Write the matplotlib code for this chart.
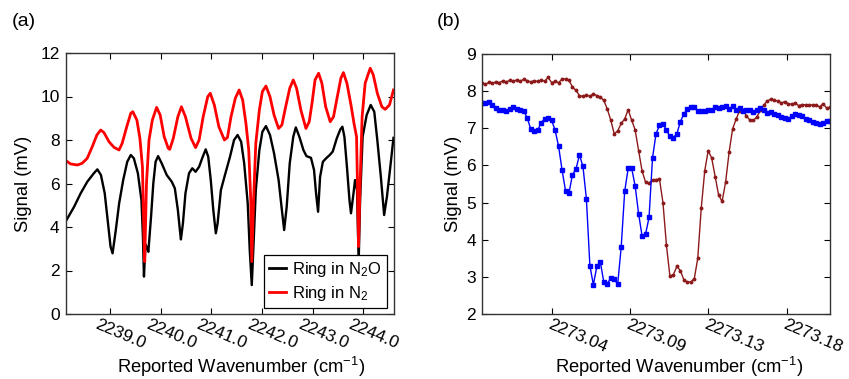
import numpy as np
import matplotlib
matplotlib.use('Agg')
import matplotlib.pyplot as plt
from matplotlib.transforms import ScaledTranslation

plt.rcParams['font.family'] = ['Liberation Sans', 'DejaVu Sans']
plt.rcParams['mathtext.fontset'] = 'custom'
plt.rcParams['mathtext.rm'] = 'Liberation Sans'
plt.rcParams['mathtext.it'] = 'Liberation Sans:italic'
plt.rcParams['mathtext.bf'] = 'Liberation Sans:bold'

# ---------------- Panel (a) data ----------------
a_black_x = [2238.13, 2238.29, 2238.42, 2238.55, 2238.68, 2238.75, 2238.82, 2238.895, 2238.96,
             2239.01, 2239.05, 2239.11, 2239.18, 2239.26, 2239.34, 2239.41, 2239.47, 2239.55,
             2239.62, 2239.65, 2239.67, 2239.70, 2239.73, 2239.757, 2239.81, 2239.855, 2239.90,
             2239.95, 2240.02, 2240.12, 2240.22, 2240.28, 2240.34, 2240.38, 2240.40, 2240.44,
             2240.49, 2240.56, 2240.625, 2240.69, 2240.76, 2240.82, 2240.89, 2240.94, 2240.99,
             2241.04, 2241.09, 2241.125, 2241.19, 2241.27, 2241.37, 2241.45, 2241.52, 2241.59,
             2241.65, 2241.72, 2241.76, 2241.80, 2241.836, 2241.88, 2241.95, 2242.01, 2242.08,
             2242.16, 2242.24, 2242.33, 2242.395, 2242.44, 2242.49, 2242.55, 2242.62, 2242.67,
             2242.74, 2242.82, 2242.88, 2242.97, 2243.03, 2243.07, 2243.11, 2243.15, 2243.205,
             2243.27, 2243.34, 2243.40, 2243.48, 2243.55, 2243.59, 2243.63, 2243.68, 2243.73,
             2243.76, 2243.81, 2243.84, 2243.88, 2243.90, 2243.915, 2243.94, 2243.99, 2244.07,
             2244.15, 2244.22, 2244.28, 2244.35, 2244.415, 2244.47, 2244.53, 2244.60]
a_black_y = [4.28, 4.93, 5.55, 6.08, 6.47, 6.65, 6.39, 5.55, 4.17,
             3.10, 2.79, 3.79, 5.09, 6.16, 7.00, 7.31, 7.16, 6.47,
             5.24, 3.55, 1.72, 3.20, 3.05, 2.86, 4.47, 6.01, 7.00,
             7.26, 6.93, 6.39, 6.08, 5.78, 4.78, 3.86, 3.43, 4.17,
             5.55, 6.47, 6.70, 6.54, 6.77, 7.16, 7.57, 7.23, 6.16,
             4.78, 3.71, 4.17, 5.70, 6.39, 7.23, 8.00, 8.23, 7.92,
             6.93, 5.09, 2.94, 1.33, 3.25, 5.70, 7.54, 8.38, 8.64,
             8.23, 7.39, 6.16, 4.78, 3.86, 4.93, 6.93, 8.15, 8.58,
             8.15, 7.54, 7.26, 7.18, 6.62, 5.55, 4.70, 6.31, 7.00,
             7.16, 7.31, 7.47, 8.08, 8.49, 8.61, 8.15, 6.77, 5.24,
             4.63, 5.55, 6.16, 5.70, 3.55, 2.71, 5.24, 8.15, 9.15,
             9.61, 9.30, 8.00, 6.31, 4.55, 5.39, 6.62, 8.10]

a_red_x = [2238.13, 2238.22, 2238.355, 2238.45, 2238.55, 2238.65, 2238.74, 2238.816, 2238.88,
           2238.98, 2239.08, 2239.178, 2239.24, 2239.33, 2239.41, 2239.45, 2239.53, 2239.59,
           2239.64, 2239.67, 2239.685, 2239.72, 2239.77, 2239.836, 2239.92, 2239.99, 2240.07,
           2240.15, 2240.18, 2240.25, 2240.34, 2240.41, 2240.49, 2240.60, 2240.69, 2240.76,
           2240.84, 2240.93, 2240.98, 2241.06, 2241.15, 2241.26, 2241.32, 2241.39, 2241.475,
           2241.55, 2241.62, 2241.685, 2241.74, 2241.78, 2241.80, 2241.836, 2241.88, 2241.95,
           2242.01, 2242.08, 2242.16, 2242.24, 2242.33, 2242.395, 2242.47, 2242.55, 2242.62,
           2242.685, 2242.77, 2242.87, 2242.935, 2242.99, 2243.05, 2243.12, 2243.185, 2243.26,
           2243.35, 2243.415, 2243.49, 2243.56, 2243.61, 2243.68, 2243.76, 2243.82, 2243.87,
           2243.89, 2243.91, 2243.94, 2243.98, 2244.04, 2244.14, 2244.20, 2244.28, 2244.37,
           2244.435, 2244.52, 2244.60]
a_red_y = [7.05, 6.90, 6.85, 6.93, 7.16, 7.70, 8.23, 8.46, 8.34,
           7.92, 7.66, 7.54, 7.85, 8.61, 9.23, 9.30, 8.92, 8.08,
           6.77, 3.56, 2.41, 6.01, 8.00, 8.92, 9.50, 9.15, 8.15,
           7.62, 7.57, 8.08, 9.07, 9.53, 9.07, 8.08, 7.65, 8.00,
           9.07, 9.99, 10.15, 9.61, 8.61, 8.00, 8.12, 9.07, 9.92,
           10.30, 9.84, 8.76, 7.54, 5.24, 2.41, 5.24, 7.85, 9.38,
           10.23, 10.48, 9.99, 9.15, 8.53, 8.69, 9.53, 10.38, 10.76,
           10.38, 9.38, 8.53, 8.84, 9.69, 10.76, 11.07, 10.61, 9.53,
           8.84, 9.07, 9.99, 10.84, 11.10, 10.61, 9.61, 8.76, 8.15,
           5.70, 3.10, 6.01, 9.07, 10.61, 11.30, 11.00, 10.15, 9.53,
           9.41, 9.61, 10.30]

a_labels = ['Ring in N$_2$O', 'Ring in N$_2$']
a_xticks = [2239.0, 2240.0, 2241.0, 2242.0, 2243.0, 2244.0]
a_xticklabels = ['2239.0', '2240.0', '2241.0', '2242.0', '2243.0', '2244.0']
a_yticks = [0, 2, 4, 6, 8, 10, 12]

# ---------------- Panel (b) data ----------------
b_x_start = 2273.000
b_x_step = 0.002
b_blue = [7.69, 7.68, 7.72, 7.64, 7.55, 7.49, 7.50, 7.47, 7.52, 7.56,
          7.53, 7.50, 7.46, 7.28, 6.98, 6.94, 6.95, 7.15, 7.26, 7.27,
          7.22, 6.95, 6.52, 5.88, 5.32, 5.26, 5.75, 5.90, 6.28, 5.98,
          5.10, 3.30, 2.79, 3.28, 3.40, 2.86, 2.80, 2.98, 2.93, 2.81,
          3.80, 5.30, 5.92, 5.93, 5.45, 4.70, 4.10, 4.15, 4.60, 6.20,
          6.85, 7.08, 7.12, 6.95, 6.78, 6.75, 6.85, 7.18, 7.38, 7.52,
          7.58, 7.57, 7.47, 7.47, 7.46, 7.49, 7.50, 7.56, 7.54, 7.58,
          7.60, 7.52, 7.59, 7.49, 7.54, 7.46, 7.49, 7.48, 7.45, 7.49,
          7.55, 7.50, 7.41, 7.44, 7.39, 7.36, 7.31, 7.29, 7.26, 7.32,
          7.38, 7.36, 7.32, 7.26, 7.22, 7.17, 7.14, 7.12, 7.15, 7.20,
          7.20]
b_red = [8.21, 8.18, 8.24, 8.21, 8.25, 8.23, 8.28, 8.25, 8.29, 8.27,
         8.30, 8.27, 8.32, 8.28, 8.25, 8.28, 8.26, 8.30, 8.27, 8.37,
         8.23, 8.26, 8.23, 8.32, 8.33, 8.29, 8.11, 8.02, 7.88, 7.86,
         7.90, 7.86, 7.93, 7.88, 7.84, 7.75, 7.52, 7.22, 6.85, 6.93,
         7.13, 7.25, 7.50, 7.22, 6.96, 6.40, 5.85, 5.55, 5.52, 5.60,
         5.62, 5.63, 5.00, 3.85, 3.02, 3.06, 3.28, 3.17, 2.92, 2.86,
         2.86, 2.95, 3.50, 4.85, 5.85, 6.40, 6.20, 5.70, 5.20, 5.03,
         5.55, 6.35, 6.98, 7.24, 7.47, 7.49, 7.33, 7.22, 7.21, 7.31,
         7.48, 7.63, 7.74, 7.78, 7.76, 7.73, 7.68, 7.72, 7.66, 7.65,
         7.68, 7.61, 7.64, 7.63, 7.62, 7.63, 7.62, 7.58, 7.66, 7.55,
         7.56]
b_xticks = [2273.04, 2273.085, 2273.13, 2273.175]
b_xticklabels = ['2273.04', '2273.09', '2273.13', '2273.18']
b_yticks = [2, 3, 4, 5, 6, 7, 8, 9]

FS = 12.5
LFS = 13.2
W, H = 849, 379
fig = plt.figure(figsize=(W / 100, H / 100), dpi=100)
axa = fig.add_axes([66 / W, 1 - 314 / H, (393.5 - 66) / W, (314 - 53) / H])
axb = fig.add_axes([482 / W, 1 - 314 / H, (830 - 482) / W, (314 - 54) / H])

# Panel (a)
axa.plot(a_black_x, a_black_y, color='black', lw=1.7, label=a_labels[0], solid_joinstyle='round')
axa.plot(a_red_x, a_red_y, color='#ff0000', lw=2.0, label=a_labels[1], solid_joinstyle='round')
axa.set_xlim(2238.13, 2244.60)
axa.set_ylim(0, 12)
axa.set_yticks(a_yticks)
axa.set_xticks(a_xticks)
axa.set_xticklabels(a_xticklabels)
leg = axa.legend(loc='lower right', bbox_to_anchor=(0.980, 0.023), borderaxespad=0,
                 fancybox=False, framealpha=1, edgecolor='black', fontsize=12,
                 handlelength=1.0, handletextpad=0.4, labelspacing=0.3, borderpad=0.3)
leg.get_frame().set_linewidth(0.9)
for l in leg.get_lines():
    l.set_linewidth(2.0)

# Panel (b)
bx = b_x_start + b_x_step * np.arange(len(b_blue))
axb.plot(bx, b_red, color='#8c1a1a', lw=1.0, marker='o', markersize=1.8)
axb.plot(bx, b_blue, color='#0000ff', lw=1.0, marker='s', markersize=2.8)
axb.set_xlim(2273.0, 2273.2)
axb.set_ylim(2, 9)
axb.set_yticks(b_yticks)
axb.set_xticks(b_xticks)
axb.set_xticklabels(b_xticklabels)

for ax, dx, xlx, yly in [(axa, -11, 0.533, -0.131), (axb, 0, 0.566, -0.083)]:
    ax.tick_params(direction='in', top=True, right=True, length=4, width=0.8,
                   labelsize=FS, colors='black')
    ax.tick_params(axis='x', pad=2)
    ax.tick_params(axis='y', pad=4.5)
    for s in ax.spines.values():
        s.set_color('#333333')
        s.set_linewidth(1.0)
    off = ScaledTranslation(dx / 100, 0, fig.dpi_scale_trans)
    for lab in ax.get_xticklabels():
        lab.set_rotation(-23)
        lab.set_ha('left')
        lab.set_va('top')
        lab.set_rotation_mode('anchor')
        lab.set_transform(lab.get_transform() + off)
    ax.set_xlabel('Reported Wavenumber (cm$^{-1}$)', fontsize=LFS)
    ax.xaxis.set_label_coords(xlx, -0.203)
    ax.xaxis.label.set_va('center')
    ax.set_ylabel('Signal (mV)', fontsize=LFS)
    ax.yaxis.set_label_coords(yly, 0.5)
    ax.yaxis.label.set_va('center')

fig.text(12 / W, 1 - 22 / H, '(a)', fontsize=14, va='center', ha='left')
fig.text(437 / W, 1 - 22 / H, '(b)', fontsize=14, va='center', ha='left')

fig.savefig('out.png', dpi=100)
